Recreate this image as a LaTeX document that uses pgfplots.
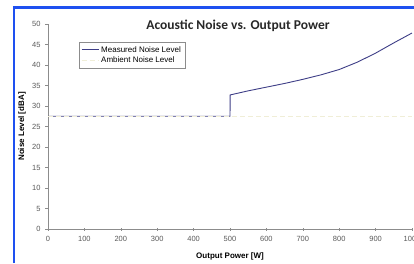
\documentclass[border=0pt]{standalone}
\usepackage{fontspec}
\setmainfont{Liberation Sans}
\newfontfamily\titlefont{Carlito}
\usepackage{pgfplots}
\pgfplotsset{compat=1.18}
\definecolor{measured}{RGB}{62,62,135}
\definecolor{ambient}{RGB}{240,238,215}
\definecolor{frameblue}{RGB}{30,80,240}
\definecolor{axgray}{RGB}{140,140,140}
\definecolor{ticktext}{RGB}{90,90,90}
\begin{document}
\begin{tikzpicture}[x=1pt,y=1pt]
\useasboundingbox (0,0) rectangle (414,263);
\clip (0,0) rectangle (414,263);
\fill[white] (0,0) rectangle (414,263);
\begin{axis}[
  at={(48pt,34pt)}, anchor=south west,
  scale only axis, width=364pt, height=205pt,
  xmin=0, xmax=1000, ymin=0, ymax=50,
  axis x line=bottom, axis y line=left,
  axis line style={-, draw=axgray, line width=0.6pt},
  xtick={0,100,...,1000}, ytick={0,5,...,50},
  tick style={draw=axgray, line width=0.5pt},
  major tick length=3pt,
  xtick align=center, ytick align=outside,
  /pgf/number format/assume math mode=true,
  /pgf/number format/1000 sep={},
  tick label style={font=\fontsize{7.5}{8}\selectfont, text=ticktext},
  xticklabel style={yshift=-2.5pt},
  yticklabel style={xshift=-1pt},
  xlabel={\bfseries Output Power [W]},
  ylabel={\bfseries Noise Level [dBA]},
  label style={font=\fontsize{8}{9}\selectfont},
  xlabel style={at={(axis description cs:0.5,-0.132)}, anchor=center},
  ylabel style={at={(axis description cs:-0.071,0.5)}, anchor=center},
  legend style={at={(0.085,0.912)}, anchor=north west, draw=axgray,
    font=\fontsize{8}{9}\selectfont, inner sep=2pt, row sep=-1pt},
  legend cell align=left,
]
\addplot[measured, line width=0.9pt] coordinates {
  (0,27.5) (500,27.5) (500.5,32.7) (550,33.7) (600,34.6) (650,35.5)
  (700,36.5) (750,37.6) (800,38.9) (850,40.7) (900,42.9) (950,45.4) (1000,47.8)
};
\addlegendentry{Measured Noise Level}
\addplot[ambient, line width=1pt, dash pattern=on 5pt off 3pt] coordinates {
  (0,27.5) (1000,27.5)
};
\addlegendentry{Ambient Noise Level}
\end{axis}
\node[font=\titlefont\bfseries\fontsize{13.5}{15}\selectfont, text={rgb,255:red,40;green,40;blue,40}] at (238,237.5) {Acoustic Noise vs. Output Power};
\draw[frameblue, line width=2.2pt] (14,0) -- (14,255) ;
\draw[frameblue, line width=2.2pt] (12.9,255.5) -- (414,255.5);
\end{tikzpicture}
\end{document}
